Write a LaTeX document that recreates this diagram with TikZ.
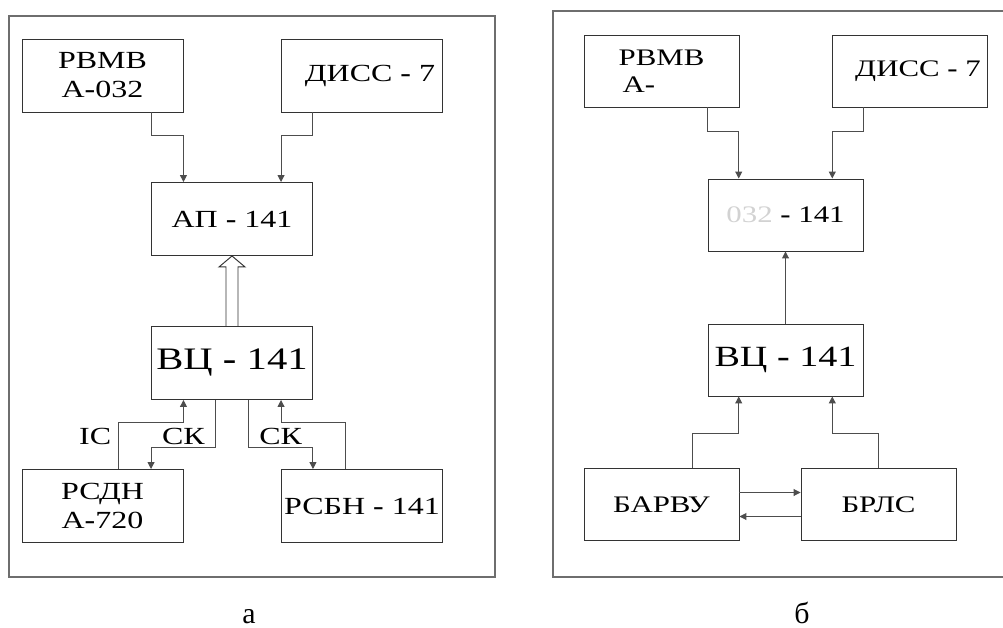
\documentclass[tikz,border=0pt]{standalone}
\usepackage{fontspec}
\setmainfont{Liberation Serif}[FakeStretch=1.3]
\newfontfamily\capfont{Liberation Serif}
\usepackage{xcolor}
\usepackage{tikz}
\usetikzlibrary{arrows.meta,calc}
\definecolor{SHFrame}{HTML}{6E6E6E}
\definecolor{SHBox}{HTML}{333333}
\definecolor{SHWire}{HTML}{4D4D4D}
\newcommand{\hy}{\textbf{-}}

\begin{document}
\begin{tikzpicture}[x=0.02cm,y=-0.02cm,
  blk/.style={draw=SHBox,line width=0.55pt,minimum width=3.22cm,minimum height=1.46cm,inner sep=0pt,align=center,font=\fontsize{14}{16.5}\selectfont},
  blkb/.style={blk,minimum width=3.1cm,minimum height=1.44cm,font=\fontsize{13.5}{15.5}\selectfont},
  big/.style={font=\fontsize{17.8}{20}\selectfont},
  wire/.style={draw=SHWire,line width=0.55pt,-{Triangle[length=1.4mm,width=1.4mm]}},
  lbl/.style={font=\fontsize{14}{15}\selectfont,inner sep=1.5pt},
  captext/.style={font=\capfont\fontsize{17}{20}\selectfont,anchor=base,inner sep=0pt}]
\useasboundingbox (0,0) rectangle (1003,628);
% panel a
\draw[SHFrame,line width=0.6pt] (9,16) rectangle (495,577);
\node[blk] (rvmvA) at (102.5,75.5) {РВМВ\\А\hy032};
\node[blk] (dissA) at (362,75.5) {\hspace*{0.32cm}ДИСС \hy{} 7};
\node[blk] (apA) at (232,219) {АП \hy{} 141};
\node[blk,big] (vcA) at (232,363) {ВЦ \hy{} 141};
\node[blk] (rsdnA) at (102.5,506) {РСДН\\А\hy720};
\node[blk] (rsbnA) at (362,506) {РСБН \hy{} 141};
\draw[wire] (rvmvA.south -| apA.west) -- ++(0,23) -| (apA.north -| rvmvA.east);
\draw[wire] (dissA.south -| apA.east) -- ++(0,23) -| (apA.north -| dissA.west);
% hollow arrow
\draw[SHBox,line width=0.55pt] ($(vcA.north)+(-6,0)$) -- ($(apA.south)+(-6,11)$) -- ($(apA.south)+(-13,11)$) -- (apA.south)
  -- ($(apA.south)+(13,11)$) -- ($(apA.south)+(6,11)$) -- ($(vcA.north)+(6,0)$);
\draw[wire] ($(rsdnA.north west)!0.6!(rsdnA.north east)$) -- node[lbl,left,pos=0.7,inner sep=4pt]{IC} ++(0,-47) -| (vcA.south -| rsdnA.east);
\draw[wire] ($(vcA.south west)!0.4!(vcA.south east)$) -- ++(0,48) -| node[lbl,above,pos=0.25]{СК} (rsdnA.north -| vcA.west);
\draw[wire] ($(vcA.south west)!0.6!(vcA.south east)$) -- ++(0,48) -| node[lbl,above,pos=0.25]{СК} (rsbnA.north -| vcA.east);
\draw[wire] ($(rsbnA.north west)!0.4!(rsbnA.north east)$) -- ++(0,-47) -| (vcA.south -| rsbnA.west);
\node[captext] (capA) at (249,623) {а};
% panel b
\draw[SHFrame,line width=0.6pt] (1003,11) -- (553,11) -- (553,577) -- (1003,577);
\node[blkb,align=left] (rvmvB) at (661.5,71) {РВМВ\\\,А\hy};
\node[blkb] (dissB) at (909.5,71) {\hspace*{0.34cm}ДИСС \hy{} 7};
\node[blkb] (apB) at (785.5,215) {{\color{gray!35}032} \hy{} 141};
\node[blkb,font=\fontsize{16.7}{18}\selectfont] (vcB) at (785.5,360) {ВЦ \hy{} 141};
\node[blkb] (barvu) at (661.5,504.5) {БАРВУ};
\node[blkb] (brls) at (878.5,504.5) {БРЛС};
\draw[wire] (rvmvB.south -| apB.west) -- ++(0,24) -| ($(apB.north west)!0.2!(apB.north east)$);
\draw[wire] (dissB.south -| apB.east) -- ++(0,24) -| ($(apB.north west)!0.8!(apB.north east)$);
\draw[wire] (vcB) -- (apB);
\draw[wire] ($(barvu.north west)!0.7!(barvu.north east)$) -- ++(0,-35) -| ($(vcB.south west)!0.2!(vcB.south east)$);
\draw[wire] (brls.north) -- ++(0,-35) -| ($(vcB.south west)!0.8!(vcB.south east)$);
\draw[wire] ($(barvu.east)+(0,-12)$) -- ($(brls.west)+(0,-12)$);
\draw[wire] ($(brls.west)+(0,12)$) -- ($(barvu.east)+(0,12)$);
\node[captext] (capB) at (802,623) {б};
\end{tikzpicture}
\end{document}
